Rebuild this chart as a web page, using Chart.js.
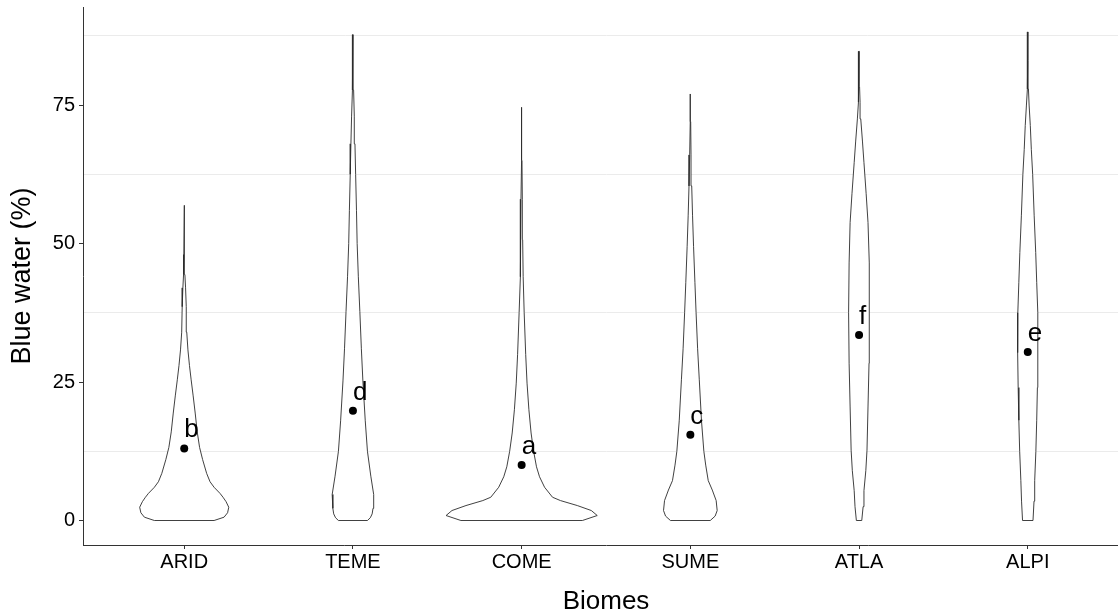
<!DOCTYPE html>
<html>
<head>
<meta charset="utf-8">
<script src="https://cdn.jsdelivr.net/npm/chart.js@4.4.1/dist/chart.umd.min.js"></script>
<style>
  html, body { margin: 0; padding: 0; background: #ffffff; overflow: hidden; }
  #wrap { width: 1118px; height: 612px; overflow: hidden; }
  canvas { display: block; }
</style>
</head>
<body>
<div id="wrap"><canvas id="chart" width="1133" height="612"></canvas></div>
<script>
// Biomes and summary values
const biomes = ['ARID', 'TEME', 'COME', 'SUME', 'ATLA', 'ALPI'];
const meanBlueWater = [13.0, 19.8, 10.0, 15.5, 33.5, 30.4];
const groupLetters = ['b', 'd', 'a', 'c', 'f', 'e'];
const yMajorTicks = [0, 25, 50, 75];
const yMinorGrid = [12.5, 37.5, 62.5, 87.5];

// Violin outlines: blue-water levels (%) and kernel-density half widths (category units)
const aridLevels = [0, 0.6, 1.4, 2.4, 3.4, 4.2, 4.9, 6, 7, 8.5, 11, 13.2, 16, 19.4, 22.5, 25.4, 28, 30.8, 34, 38.6, 42, 44.4, 48, 56.9];
const aridDensity = [0.177, 0.236, 0.257, 0.264, 0.248, 0.230, 0.212, 0.177, 0.153, 0.133, 0.109, 0.091, 0.077, 0.065, 0.053, 0.041, 0.031, 0.022, 0.015, 0.012, 0.008, 0.004, 0.002, 0.001];

const temeLevels = [0, 0.5, 1.2, 2.2, 4.7, 8, 12.5, 18, 25.2, 31, 37.7, 44, 50, 56, 62.5, 68, 73, 77.7, 82, 87.7];
const temeDensity = [0.086, 0.103, 0.114, 0.119, 0.123, 0.106, 0.086, 0.073, 0.059, 0.050, 0.041, 0.032, 0.025, 0.021, 0.016, 0.012, 0.008, 0.004, 0.002, 0.001];

const comeLevels = [0, 0.9, 1.8, 2.7, 3.6, 4.2, 6.0, 7.9, 9.7, 12.5, 15.8, 20, 24.8, 30, 37.5, 44, 50.7, 58, 65, 70, 74.6];
const comeDensity = [0.360, 0.448, 0.413, 0.330, 0.230, 0.183, 0.136, 0.106, 0.088, 0.071, 0.056, 0.043, 0.032, 0.024, 0.015, 0.009, 0.006, 0.004, 0.002, 0.001, 0.001];

const sumeLevels = [0, 0.8, 1.8, 3.6, 5.5, 7.2, 10, 12.5, 18, 25.4, 31, 37.5, 43, 49.5, 55, 60.4, 66, 72, 77];
const sumeDensity = [0.118, 0.147, 0.159, 0.153, 0.130, 0.106, 0.091, 0.080, 0.066, 0.053, 0.043, 0.034, 0.027, 0.019, 0.013, 0.008, 0.004, 0.002, 0.001];

const atlaLevels = [0, 2.5, 5.4, 9, 12.7, 20.5, 28.4, 37.5, 46.5, 53.8, 59, 64.6, 68.5, 72.5, 75.5, 78.3, 81.5, 84.7];
const atlaDensity = [0.016, 0.024, 0.029, 0.040, 0.047, 0.053, 0.059, 0.062, 0.059, 0.053, 0.042, 0.029, 0.020, 0.010, 0.006, 0.003, 0.002, 0.001];

const alpiLevels = [0, 3.5, 7.2, 12.5, 18.1, 24, 30.3, 37.5, 43, 48.4, 55, 62.5, 67, 71.3, 75, 77.9, 83, 88.2];
const alpiDensity = [0.031, 0.037, 0.041, 0.048, 0.053, 0.057, 0.060, 0.059, 0.053, 0.047, 0.038, 0.029, 0.021, 0.015, 0.008, 0.004, 0.002, 0.001];

const violinLevels = [aridLevels, temeLevels, comeLevels, sumeLevels, atlaLevels, alpiLevels];
const violinDensity = [aridDensity, temeDensity, comeDensity, sumeDensity, atlaDensity, alpiDensity];

const FONT = "'Liberation Sans', Arial, Helvetica, sans-serif";
const AXIS_GREY = '#333333';
const LABEL_NUDGE = 2.0; // letters sit just above each mean, in % units

// Closed outline: up the right side, back down the left side
function violinOutline(i) {
  const centre = i + 1;
  const lv = violinLevels[i], d = violinDensity[i];
  const pts = [];
  for (let k = 0; k < lv.length; k++) pts.push({ x: centre + d[k], y: lv[k] });
  for (let k = lv.length - 1; k >= 0; k--) pts.push({ x: centre - d[k], y: lv[k] });
  pts.push({ x: centre + d[0], y: lv[0] });
  return pts;
}

const violinSets = biomes.map((b, i) => ({
  type: 'scatter',
  label: b,
  data: violinOutline(i),
  showLine: true,
  tension: 0,
  borderColor: '#2b2b2b',
  borderWidth: 0.9,
  backgroundColor: '#ffffff',
  fill: 'shape',
  pointRadius: 0,
  pointHoverRadius: 0,
  order: 2
}));

const meanSet = {
  type: 'scatter',
  label: 'mean',
  data: meanBlueWater.map((m, i) => ({ x: i + 1, y: m })),
  pointRadius: 4,
  pointBackgroundColor: '#000000',
  pointBorderColor: '#000000',
  pointBorderWidth: 0,
  order: 1
};

// Significance letters next to each mean
const letterPlugin = {
  id: 'groupLetters',
  afterDatasetsDraw(chart) {
    const { ctx, scales: { x, y } } = chart;
    ctx.save();
    ctx.fillStyle = '#000000';
    ctx.font = `26px ${FONT}`;
    ctx.textAlign = 'left';
    ctx.textBaseline = 'alphabetic';
    groupLetters.forEach((t, i) => {
      ctx.fillText(t, x.getPixelForValue(i + 1), y.getPixelForValue(meanBlueWater[i] + LABEL_NUDGE));
    });
    ctx.restore();
  }
};

const isMajor = v => yMajorTicks.includes(v);

new Chart(document.getElementById('chart'), {
  type: 'scatter',
  data: { datasets: [meanSet, ...violinSets] },
  options: {
    responsive: false,
    animation: false,
    devicePixelRatio: 1,
    layout: { padding: { top: 7, right: 0, bottom: 0, left: 0 } },
    plugins: { legend: { display: false }, tooltip: { enabled: false } },
    scales: {
      x: {
        type: 'linear',
        min: 0.4,
        max: 6.6,
        afterBuildTicks: s => { s.ticks = biomes.map((b, i) => ({ value: i + 1 })); },
        afterFit: s => { s.height = 67; s.paddingLeft = 0; s.paddingRight = 0; },
        ticks: {
          autoSkip: false,
          maxRotation: 0,
          padding: 1,
          color: '#000000',
          font: { family: FONT, size: 20 },
          callback: v => biomes[Math.round(v) - 1] || ''
        },
        grid: { drawOnChartArea: false, drawTicks: true, tickLength: 4, tickColor: AXIS_GREY, tickWidth: 1 },
        border: { display: true, color: AXIS_GREY, width: 1 },
        title: {
          display: true,
          text: 'Biomes',
          color: '#000000',
          font: { family: FONT, size: 26, lineHeight: 1 },
          padding: { top: 0, bottom: -3 }
        }
      },
      y: {
        type: 'linear',
        min: -4.42,
        max: 92.7,
        afterBuildTicks: s => {
          s.ticks = [...yMajorTicks, ...yMinorGrid].sort((a, b) => a - b).map(v => ({ value: v }));
        },
        afterFit: s => { s.width = 83; s.paddingTop = 0; s.paddingBottom = 0; },
        ticks: {
          padding: 4,
          color: '#000000',
          font: { family: FONT, size: 20 },
          callback: v => (isMajor(v) ? String(v) : '')
        },
        grid: {
          drawOnChartArea: true,
          drawTicks: true,
          tickLength: 4,
          lineWidth: 1,
          color: c => (c.tick && isMajor(c.tick.value) ? 'rgba(0,0,0,0)' : '#ebebeb'),
          tickColor: c => (c.tick && isMajor(c.tick.value) ? AXIS_GREY : 'rgba(0,0,0,0)')
        },
        border: { display: true, color: AXIS_GREY, width: 1 },
        title: {
          display: true,
          text: 'Blue water (%)',
          color: '#000000',
          font: { family: FONT, size: 27, lineHeight: 1 },
          padding: { top: 9, bottom: 0 }
        }
      }
    }
  },
  plugins: [letterPlugin]
});
</script>
</body>
</html>
